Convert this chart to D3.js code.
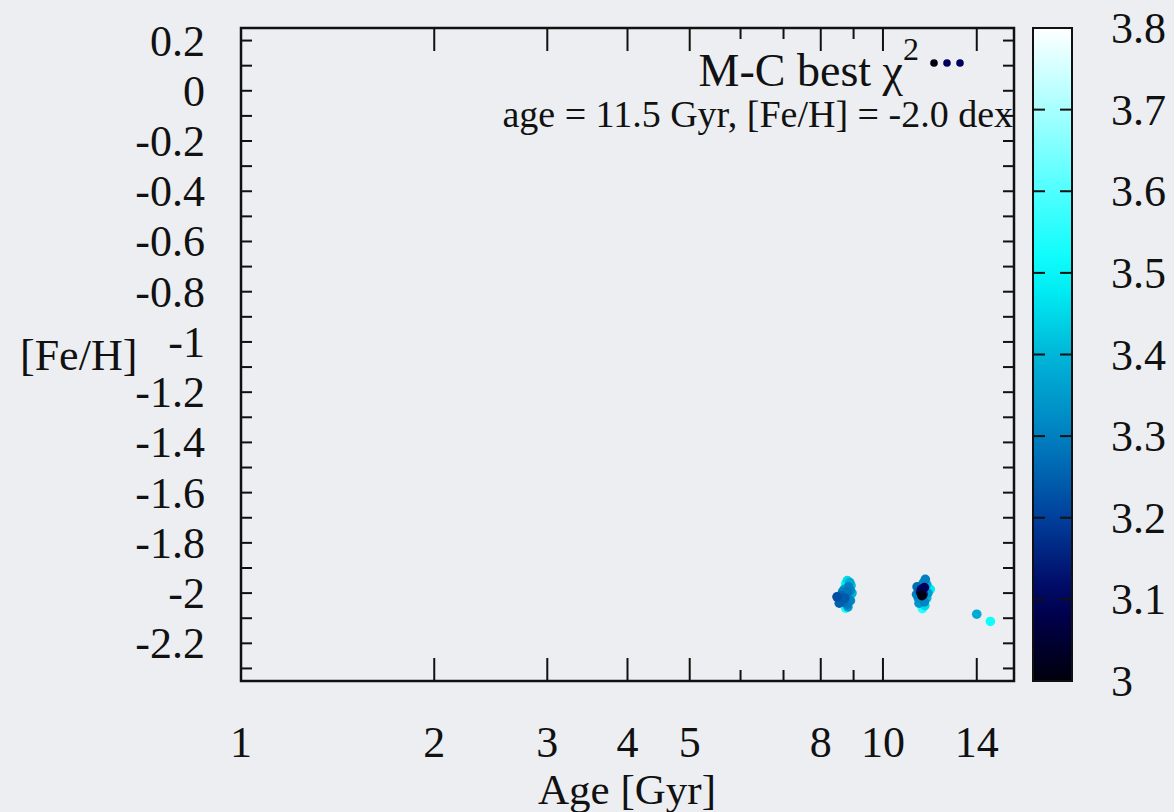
<!DOCTYPE html>
<html>
<head>
<meta charset="utf-8">
<script src="https://cdn.jsdelivr.net/npm/d3@7"></script>
<style>
  html, body { margin: 0; padding: 0; background: #eceef1; }
  svg { display: block; }
</style>
</head>
<body>
<svg id="chart" width="1174" height="812" font-family="'Liberation Serif', 'DejaVu Serif', 'Times New Roman', serif"></svg>
<script>
// Monte-Carlo best-fit solutions: age [Gyr], [Fe/H] [dex], log chi^2
const ages = [
  8.80, 8.88, 8.75, 8.92, 8.84, 8.70, 8.90, 8.80, 8.95, 8.48,
  8.60, 8.72, 8.85, 8.55, 8.68, 8.80, 8.75, 8.82, 8.90, 8.65,
  11.64, 11.55, 11.70, 11.30, 11.60, 11.48, 11.85, 11.40, 11.45, 11.75,
  11.28, 11.55, 11.50, 11.35, 11.70, 11.45, 11.60, 11.38, 11.52, 11.62,
  14.00, 14.70
];
const fehs = [
  -1.950, -1.958, -1.962, -1.970, -1.975, -1.985, -1.990, -1.995, -2.000, -2.015,
  -2.010, -2.020, -2.025, -2.040, -2.035, -2.045, -2.060, -2.055, -2.030, -1.995,
  -1.945, -1.960, -1.965, -1.975, -1.978, -1.985, -1.985, -1.990, -1.998, -2.000,
  -2.005, -2.005, -2.010, -2.020, -2.020, -2.030, -2.035, -2.040, -2.062, -2.050,
  -2.084, -2.113
];
const chi2 = [
  3.45, 3.38, 3.50, 3.42, 3.30, 3.36, 3.32, 3.28, 3.40, 3.22,
  3.26, 3.24, 3.30, 3.25, 3.27, 3.29, 3.52, 3.35, 3.33, 3.31,
  3.30, 3.32, 3.38, 3.27, 3.10, 3.12, 3.48, 3.25, 3.08, 3.35,
  3.30, 3.14, 3.00, 3.33, 3.40, 3.36, 3.31, 3.34, 3.55, 3.45,
  3.38, 3.52
];

// axis ticks
const xMajorTicks = [1, 2, 3, 4, 5, 8, 10, 14];
const xMinorTicks = [6, 7, 9];
const yTicks = [0.2, 0.1, 0, -0.1, -0.2, -0.3, -0.4, -0.5, -0.6, -0.7, -0.8, -0.9, -1.0,
  -1.1, -1.2, -1.3, -1.4, -1.5, -1.6, -1.7, -1.8, -1.9, -2.0, -2.1, -2.2, -2.3];
const yLabels = [0.2, 0, -0.2, -0.4, -0.6, -0.8, -1, -1.2, -1.4, -1.6, -1.8, -2, -2.2];
const cbTicks = [3, 3.1, 3.2, 3.3, 3.4, 3.5, 3.6, 3.7, 3.8];

// palette
const paletteStops = [3.0, 3.1, 3.2, 3.3, 3.4, 3.5, 3.6, 3.7, 3.8];
const paletteColors = ["#00000c", "#00005c", "#00409c", "#0080c0", "#00b6d8",
  "#00fbfb", "#50ffff", "#a8ffff", "#ffffff"];

const best = { age: 11.5, feh: -2.0 };

const svg = d3.select("#chart");
const plot = { left: 241, right: 1014, top: 28, bottom: 681 };
const cb = { left: 1033, right: 1072 };
const ink = "#111";

const x = d3.scaleLog().domain([1, 16]).range([plot.left, plot.right]);
const y = d3.scaleLinear().domain([-2.35, 0.25]).range([plot.bottom, plot.top]);
const cy = d3.scaleLinear().domain([3, 3.8]).range([plot.bottom, plot.top]);
const color = d3.scaleLinear().domain(paletteStops).range(paletteColors).clamp(true);

// points, best (lowest chi^2) drawn last
const pts = ages.map((a, i) => ({ age: a, feh: fehs[i], c: chi2[i] }))
  .sort((p, q) => q.c - p.c);
svg.append("g").selectAll("circle").data(pts).enter().append("circle")
  .attr("cx", d => x(d.age))
  .attr("cy", d => y(d.feh))
  .attr("r", 4.8)
  .attr("fill", d => color(d.c));

// frame ticks (mirrored on all sides)
const tk = svg.append("g").attr("stroke", ink).attr("stroke-width", 2);
xMajorTicks.filter(v => v > 1).forEach(v => {
  tk.append("line").attr("x1", x(v)).attr("x2", x(v)).attr("y1", plot.bottom).attr("y2", plot.bottom - 23);
  tk.append("line").attr("x1", x(v)).attr("x2", x(v)).attr("y1", plot.top).attr("y2", plot.top + 23);
});
xMinorTicks.forEach(v => {
  tk.append("line").attr("x1", x(v)).attr("x2", x(v)).attr("y1", plot.bottom).attr("y2", plot.bottom - 11);
  tk.append("line").attr("x1", x(v)).attr("x2", x(v)).attr("y1", plot.top).attr("y2", plot.top + 11);
});
yTicks.forEach(v => {
  tk.append("line").attr("x1", plot.left).attr("x2", plot.left + 11).attr("y1", y(v)).attr("y2", y(v));
  tk.append("line").attr("x1", plot.right).attr("x2", plot.right - 11).attr("y1", y(v)).attr("y2", y(v));
});

// frame
svg.append("rect")
  .attr("x", plot.left).attr("y", plot.top)
  .attr("width", plot.right - plot.left).attr("height", plot.bottom - plot.top)
  .attr("fill", "none").attr("stroke", ink).attr("stroke-width", 2.5);

// tick labels
const fmt = v => String(Math.round(v * 10) / 10);
svg.append("g").selectAll("text").data(xMajorTicks).enter().append("text")
  .attr("x", d => x(d)).attr("y", 757)
  .attr("text-anchor", "middle").attr("font-size", 44).attr("fill", ink)
  .text(d => d);
svg.append("g").selectAll("text").data(yLabels).enter().append("text")
  .attr("x", 205).attr("y", d => y(d) + 15)
  .attr("text-anchor", "end").attr("font-size", 44).attr("fill", ink)
  .text(fmt);

// axis titles
svg.append("text").attr("x", 627).attr("y", 804).attr("text-anchor", "middle")
  .attr("font-size", 43).attr("fill", ink).text("Age [Gyr]");
svg.append("text").attr("x", 20).attr("y", 370).attr("text-anchor", "start")
  .attr("font-size", 44).attr("fill", ink).text("[Fe/H]");

// key
const title = svg.append("text").attr("x", 919).attr("y", 86)
  .attr("text-anchor", "end").attr("font-size", 46).attr("fill", ink);
title.append("tspan").text("M-C best χ");
title.append("tspan").attr("font-size", 32).attr("dy", -26).text("2");
const keyColors = [color(3.0), color(3.1), color(3.1)];
svg.append("g").selectAll("circle").data(keyColors).enter().append("circle")
  .attr("cx", (d, i) => 934 + i * 13).attr("cy", 63).attr("r", 3.8)
  .attr("fill", d => d);
svg.append("text").attr("x", 1013).attr("y", 127).attr("text-anchor", "end")
  .attr("font-size", 38).attr("fill", ink)
  .text(`age = ${best.age} Gyr, [Fe/H] = ${best.feh.toFixed(1)} dex`);

// colour box
const defs = svg.append("defs");
const grad = defs.append("linearGradient").attr("id", "cbgrad")
  .attr("x1", 0).attr("y1", 1).attr("x2", 0).attr("y2", 0);
d3.range(0, 1.0001, 0.05).forEach(t => {
  grad.append("stop").attr("offset", t).attr("stop-color", color(3 + 0.8 * t));
});
svg.append("rect").attr("x", cb.left).attr("y", plot.top)
  .attr("width", cb.right - cb.left).attr("height", plot.bottom - plot.top)
  .attr("fill", "url(#cbgrad)").attr("stroke", ink).attr("stroke-width", 2);
const ct = svg.append("g").attr("stroke", ink).attr("stroke-width", 2);
cbTicks.filter(v => v > 3 && v < 3.8).forEach(v => {
  ct.append("line").attr("x1", cb.left).attr("x2", cb.left + 12).attr("y1", cy(v)).attr("y2", cy(v));
  ct.append("line").attr("x1", cb.right).attr("x2", cb.right - 12).attr("y1", cy(v)).attr("y2", cy(v));
});
svg.append("g").selectAll("text").data(cbTicks).enter().append("text")
  .attr("x", 1111).attr("y", d => cy(d) + 15)
  .attr("font-size", 44).attr("fill", ink).text(fmt);
</script>
</body>
</html>
